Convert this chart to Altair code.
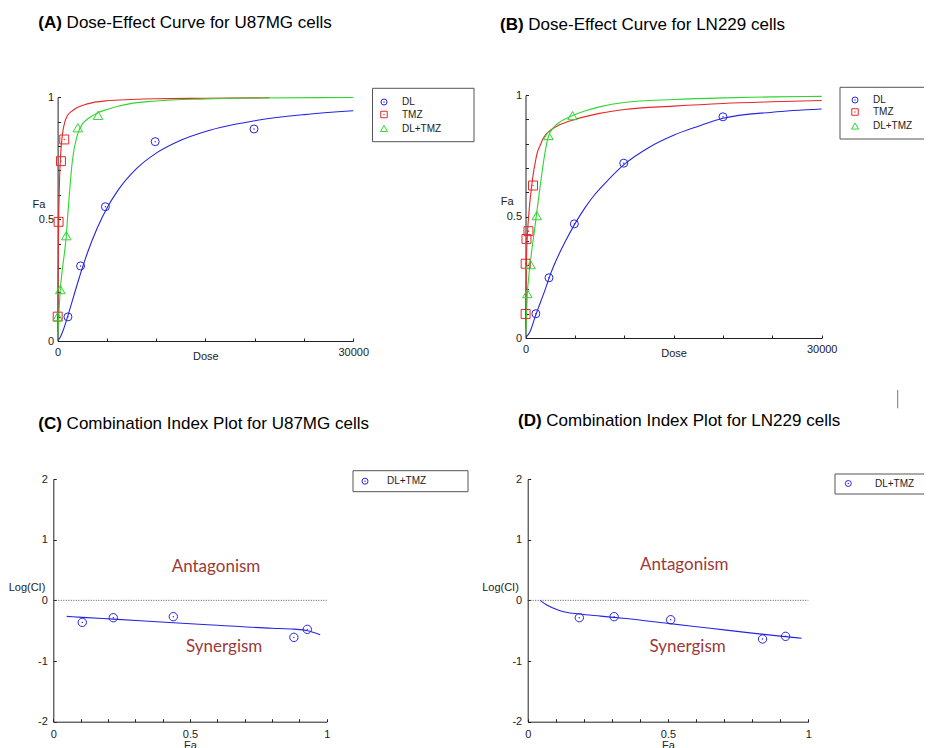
import altair as alt
import pandas as pd

W, H = 916, 740
FONT = "Liberation Sans"
BLUE, RED, GREEN = "#2525e2", "#e32929", "#2ed62e"
INK = "#222222"
NOTE = "#9b3a37"

# ---------------- Panel A : U87MG dose-effect ----------------
A_DL_DOSE = [1050, 2330, 4850, 9900, 19930]
A_DL_FA = [0.099, 0.308, 0.551, 0.818, 0.870]
A_TMZ_DOSE = [10, 100, 340, 675]
A_TMZ_FA = [0.100, 0.489, 0.738, 0.827]
A_MIX_DOSE = [10, 270, 880, 2050, 4100]
A_MIX_FA = [0.100, 0.211, 0.432, 0.875, 0.926]

A_DL_CURVE_DOSE = [0, 250, 500, 1000, 1500, 2000, 3000, 4000, 5000, 6000, 8000,
                   10000, 12500, 15000, 20000, 25000, 30000]
A_DL_CURVE_FA = [0, 0.014, 0.037, 0.098, 0.166, 0.234, 0.359, 0.462, 0.545, 0.611, 0.707,
                 0.771, 0.824, 0.860, 0.904, 0.929, 0.945]
A_TMZ_CURVE_DOSE = [0, 25, 50, 100, 150, 200, 300, 500, 750, 1000, 1500, 2000, 3000,
                    5000, 7500, 10000, 15000, 21500]
A_TMZ_CURVE_FA = [0, 0.154, 0.288, 0.473, 0.588, 0.665, 0.760, 0.850, 0.901, 0.925, 0.945,
                  0.958, 0.973, 0.986, 0.991, 0.994, 0.996, 0.998]
A_MIX_CURVE_DOSE = [0, 100, 250, 500, 750, 900, 1000, 1250, 1500, 2000, 2500, 3000, 4000,
                    5000, 7500, 10000, 15000, 20000, 30000]
A_MIX_CURVE_FA = [0, 0.09, 0.2, 0.3, 0.38, 0.44, 0.5, 0.63, 0.74, 0.845, 0.89, 0.91, 0.935,
                  0.95, 0.975, 0.985, 0.993, 0.997, 0.999]

# ---------------- Panel B : LN229 dose-effect ----------------
B_DL_DOSE = [1050, 2380, 4950, 9950, 20000]
B_DL_FA = [0.100, 0.248, 0.470, 0.720, 0.911]
B_TMZ_DOSE = [10, 15, 100, 300, 760]
B_TMZ_FA = [0.099, 0.306, 0.408, 0.440, 0.628]
B_MIX_DOSE = [185, 510, 1140, 2320, 4760]
B_MIX_FA = [0.183, 0.302, 0.504, 0.834, 0.916]

B_DL_CURVE_DOSE = [0, 500, 1000, 1500, 2000, 2500, 3000, 4000, 5000, 6000, 7000, 8000,
                   10000, 12500, 15000, 17500, 20000, 25000, 30000]
B_DL_CURVE_FA = [0, 0.03, 0.09, 0.145, 0.2, 0.26, 0.31, 0.395, 0.47, 0.535, 0.59, 0.635,
                 0.715, 0.785, 0.835, 0.872, 0.905, 0.93, 0.943]
B_TMZ_CURVE_DOSE = [0, 25, 50, 100, 200, 400, 630, 800, 1000, 1140, 1500, 1810, 2500,
                    3500, 5000, 7500, 10000, 15000, 20000, 25000, 30000]
B_TMZ_CURVE_FA = [0, 0.12, 0.2, 0.33, 0.43, 0.54, 0.628, 0.68, 0.725, 0.755, 0.795, 0.824,
                  0.855, 0.879, 0.9, 0.925, 0.941, 0.955, 0.966, 0.973, 0.978]
B_MIX_CURVE_DOSE = [0, 100, 185, 300, 460, 700, 900, 1100, 1400, 1700, 2000, 2320, 2800,
                    3500, 4760, 6000, 7500, 10000, 15000, 20000, 25000, 30000]
B_MIX_CURVE_FA = [0, 0.09, 0.183, 0.24, 0.302, 0.38, 0.44, 0.504, 0.6, 0.69, 0.77, 0.83,
                  0.865, 0.89, 0.916, 0.935, 0.952, 0.97, 0.982, 0.989, 0.993, 0.995]

# ---------------- Panel C : U87MG combination index ----------------
C_FA = [0.106, 0.2195, 0.439, 0.880, 0.929]
C_LOGCI = [-0.363, -0.286, -0.269, -0.61, -0.478]
C_CURVE_FA = [0.049, 0.106, 0.22, 0.44, 0.6, 0.8, 0.88, 0.93, 0.976]
C_CURVE_LOGCI = [-0.264, -0.28, -0.31, -0.37, -0.41, -0.46, -0.475, -0.5, -0.566]

# ---------------- Panel D : LN229 combination index ----------------
D_FA = [0.184, 0.308, 0.5095, 0.837, 0.919]
D_LOGCI = [-0.286, -0.269, -0.319, -0.637, -0.593]
D_CURVE_FA = [0.044, 0.068, 0.115, 0.184, 0.26, 0.35, 0.5, 0.65, 0.8, 0.9, 0.976]
D_CURVE_LOGCI = [0.0, -0.077, -0.17, -0.225, -0.26, -0.3, -0.38, -0.46, -0.54, -0.59, -0.625]

SERIES = ["DL", "TMZ", "DL+TMZ"]
DOSE_LABELS = [0, 30000]
DOSE_TICKS = [0, 5000, 10000, 15000, 20000, 25000, 30000]
FA_LABELS = [0, 0.5, 1]
FA_TICKS = [0, 0.1, 0.2, 0.3, 0.4, 0.5, 0.6, 0.7, 0.8, 0.9, 1]
CI_LABELS = [-2, -1, 0, 1, 2]

ONE = pd.DataFrame({"k": [0]})


def frame(xs, ys):
    return pd.DataFrame({"x": xs, "y": ys})


def scales(xdom, xr, ydom, yr):
    return (alt.Scale(domain=xdom, range=xr, nice=False, zero=False),
            alt.Scale(domain=ydom, range=yr, nice=False, zero=False))


def label_axes(ax_x, ax_y, xvals, yvals, xtitle, ytitle, xtx, xty, ytx, yty, xpad, ypad):
    xa = alt.Axis(orient="bottom", offset=ax_y - H, values=xvals, labelExpr="'' + datum.value",
                  ticks=False, tickSize=0, domain=True, domainColor=INK, domainWidth=1, grid=False,
                  labelFont=FONT, labelFontSize=11, labelColor=INK, labelPadding=xpad,
                  labelFlush=False, labelOverlap=False,
                  title=xtitle, titleFont=FONT, titleFontSize=11, titleFontWeight="normal",
                  titleColor=INK, titleX=xtx, titleY=xty, titleBaseline="middle", titleAlign="center")
    ya = alt.Axis(orient="left", offset=-ax_x, values=yvals, labelExpr="'' + datum.value",
                  ticks=False, tickSize=0, domain=True, domainColor=INK, domainWidth=1, grid=False,
                  labelFont=FONT, labelFontSize=11, labelColor=INK, labelPadding=ypad,
                  labelOverlap=False,
                  title=ytitle, titleFont=FONT, titleFontSize=11, titleFontWeight="normal",
                  titleColor=INK, titleAngle=0, titleX=ytx, titleY=yty, titleBaseline="middle",
                  titleAlign="center")
    return xa, ya


def tick_axes(ax_x, ax_y, xvals, yvals):
    xa = alt.Axis(orient="top", offset=-ax_y, values=xvals, labels=False, domain=False,
                  ticks=True, tickSize=3, tickColor=INK, tickWidth=1, grid=False, title=None)
    ya = alt.Axis(orient="right", offset=ax_x - W, values=yvals, labels=False, domain=False,
                  ticks=True, tickSize=3, tickColor=INK, tickWidth=1, grid=False, title=None)
    return xa, ya


def curve(df, color, xs, ys, xa=None, ya=None):
    return alt.Chart(df).mark_line(color=color, strokeWidth=1.1, interpolate="monotone").encode(
        x=alt.X("x:Q", scale=xs, axis=xa), y=alt.Y("y:Q", scale=ys, axis=ya))


def symbols(df, shape, color, size, xs, ys, xa=None, ya=None):
    return alt.Chart(df).mark_point(shape=shape, filled=False, color=color, size=size,
                                    strokeWidth=1, opacity=1).encode(
        x=alt.X("x:Q", scale=xs, axis=xa), y=alt.Y("y:Q", scale=ys, axis=ya))


def dots(df, color, xs, ys):
    return alt.Chart(df).mark_point(shape="circle", filled=True, color=color, size=2,
                                    opacity=1).encode(
        x=alt.X("x:Q", scale=xs, axis=None), y=alt.Y("y:Q", scale=ys, axis=None))


def heading(letter, rest, x, y):
    a = alt.Chart(ONE).mark_text(text=letter, font=FONT, fontSize=17, fontWeight="bold",
                                 align="left", baseline="alphabetic", color="#000").encode(
        x=alt.value(x), y=alt.value(y))
    b = alt.Chart(ONE).mark_text(text=rest, font=FONT, fontSize=17, fontWeight="normal",
                                 align="left", baseline="alphabetic", color="#000").encode(
        x=alt.value(x + 28.3), y=alt.value(y))
    return [a, b]


def legend_box(x1, x2, y1, y2):
    return alt.Chart(ONE).mark_rect(fill="white", stroke="#555555", strokeWidth=1).encode(
        x=alt.value(x1), x2=alt.value(x2), y=alt.value(y1), y2=alt.value(y2))


def legend_row(shape, color, size, label, sx, tx, y, dot):
    out = [alt.Chart(ONE).mark_point(shape=shape, filled=False, color=color, size=size,
                                     strokeWidth=1, opacity=1).encode(
        x=alt.value(sx), y=alt.value(y))]
    if dot:
        out.append(alt.Chart(ONE).mark_point(shape="circle", filled=True, color=color, size=2,
                                             opacity=1).encode(x=alt.value(sx), y=alt.value(y)))
    out.append(alt.Chart(ONE).mark_text(text=label, font=FONT, fontSize=10, color=INK,
                                        align="left", baseline="middle").encode(
        x=alt.value(tx), y=alt.value(y)))
    return out


def note(text, fx, fy, xs, ys):
    return alt.Chart(ONE).mark_text(text=text, font="Lato", fontSize=17, color=NOTE,
                                    align="center", baseline="middle").encode(
        x=alt.XDatum(fx, type="quantitative", scale=xs, axis=None),
        y=alt.YDatum(fy, type="quantitative", scale=ys, axis=None))


def zero_line(xs, ys):
    return alt.Chart(ONE).mark_rule(color="#555555", strokeWidth=1, strokeDash=[1, 1.5]).encode(
        x=alt.XDatum(0, type="quantitative", scale=xs, axis=None),
        x2=alt.X2Datum(1),
        y=alt.YDatum(0, type="quantitative", scale=ys, axis=None))


def dose_panel(geo, data, legend, head):
    ax_x, ax_y, x_end, y_top, xtx, ytx, yty = geo
    xs, ys = scales([0, 30000], [ax_x, x_end], [0, 1], [ax_y, y_top])
    lxa, lya = label_axes(ax_x, ax_y, DOSE_LABELS, FA_LABELS, "Dose", "Fa", xtx, 15, ytx, yty, 5, 4)
    txa, tya = tick_axes(ax_x, ax_y, DOSE_TICKS, FA_TICKS)
    (dl_cx, dl_cy, tmz_cx, tmz_cy, mix_cx, mix_cy,
     dl_x, dl_y, tmz_x, tmz_y, mix_x, mix_y) = data
    layers = [
        curve(frame(dl_cx, dl_cy), BLUE, xs, ys, lxa, lya),
        curve(frame(tmz_cx, tmz_cy), RED, xs, ys, txa, tya),
        curve(frame(mix_cx, mix_cy), GREEN, xs, ys),
        symbols(frame(dl_x, dl_y), "circle", BLUE, 64, xs, ys),
        dots(frame(dl_x, dl_y), BLUE, xs, ys),
        symbols(frame(tmz_x, tmz_y), "square", RED, 80, xs, ys),
        dots(frame(tmz_x, tmz_y), RED, xs, ys),
        symbols(frame(mix_x, mix_y), "triangle-up", GREEN, 90, xs, ys),
    ]
    bx1, bx2, by1, by2, sx, tx, rows = legend
    layers.append(legend_box(bx1, bx2, by1, by2))
    specs = [("circle", BLUE, 36, True), ("square", RED, 42, True), ("triangle-up", GREEN, 50, False)]
    for (shape, col, sz, dt), lab, ry in zip(specs, SERIES, rows):
        layers += legend_row(shape, col, sz, lab, sx, tx, ry, dt)
    layers += heading(*head)
    return alt.layer(*layers).resolve_axis(x="independent", y="independent")


def ci_panel(geo, data, legend, head, notes):
    ax_x, ax_y, x_end, y_top, xtx, ytx, yty = geo
    xs, ys = scales([0, 1], [ax_x, x_end], [-2, 2], [ax_y, y_top])
    lxa, lya = label_axes(ax_x, ax_y, FA_LABELS, CI_LABELS, "Fa", "Log(CI)", xtx, 24.0, ytx, yty, 7, 6)
    txa, tya = tick_axes(ax_x, ax_y, FA_TICKS, CI_LABELS)
    cx, cy, px, py = data
    layers = [
        zero_line(xs, ys),
        curve(frame(cx, cy), BLUE, xs, ys, lxa, lya),
        symbols(frame(px, py), "circle", BLUE, 70, xs, ys, txa, tya),
        dots(frame(px, py), BLUE, xs, ys),
    ]
    (a_x, a_y), (s_x, s_y) = notes
    layers.append(note("Antagonism", a_x, a_y, xs, ys))
    layers.append(note("Synergism", s_x, s_y, xs, ys))
    bx1, bx2, by1, by2, sx, tx, ry = legend
    layers.append(legend_box(bx1, bx2, by1, by2))
    layers += legend_row("circle", BLUE, 36, SERIES[2], sx, tx, ry, True)
    layers += heading(*head)
    return alt.layer(*layers).resolve_axis(x="independent", y="independent")


pA = dose_panel(
    (49.6, 333.0, 345.3, 89.3, 197.4, -19.2, 196.0),
    (A_DL_CURVE_DOSE, A_DL_CURVE_FA, A_TMZ_CURVE_DOSE, A_TMZ_CURVE_FA, A_MIX_CURVE_DOSE,
     A_MIX_CURVE_FA, A_DL_DOSE, A_DL_FA, A_TMZ_DOSE, A_TMZ_FA, A_MIX_DOSE, A_MIX_FA),
    (364.5, 466.0, 80.3, 133.7, 376.0, 394.0, [94.0, 106.5, 120.5]),
    ("(A)", "Dose-Effect Curve for U87MG cells", 30.3, 19.5))

pB = dose_panel(
    (517.5, 330.0, 813.7, 87.2, 665.6, -18.8, 193.7),
    (B_DL_CURVE_DOSE, B_DL_CURVE_FA, B_TMZ_CURVE_DOSE, B_TMZ_CURVE_FA, B_MIX_CURVE_DOSE,
     B_MIX_CURVE_FA, B_DL_DOSE, B_DL_FA, B_TMZ_DOSE, B_TMZ_FA, B_MIX_DOSE, B_MIX_FA),
    (832.0, 935.0, 79.3, 131.0, 847.0, 865.0, [92.0, 104.0, 118.0]),
    ("(B)", "Dose-Effect Curve for LN229 cells", 492.0, 21.5))

pC = ci_panel(
    (45.3, 713.7, 318.7, 471.0, 182.0, -26.8, 579.7),
    (C_CURVE_FA, C_CURVE_LOGCI, C_FA, C_LOGCI),
    (345.0, 460.0, 462.7, 483.7, 357.0, 379.0, 473.2),
    ("(C)", "Combination Index Plot for U87MG cells", 30.3, 421.0),
    ((0.595, 0.554), (0.625, -0.765)))

pD = ci_panel(
    (519.7, 713.7, 800.3, 471.0, 660.0, -27.7, 579.7),
    (D_CURVE_FA, D_CURVE_LOGCI, D_FA, D_LOGCI),
    (827.0, 935.0, 466.0, 486.0, 840.3, 867.0, 475.5),
    ("(D)", "Combination Index Plot for LN229 cells", 510.0, 418.0),
    ((0.558, 0.58), (0.57, -0.765)))

stray = alt.Chart(ONE).mark_rule(color="#777777", strokeWidth=1).encode(
    x=alt.value(889.7), y=alt.value(382.0), y2=alt.value(400.3))

chart = alt.layer(pA, pB, pC, pD, stray).resolve_scale(
    x="independent", y="independent"
).properties(
    width=W, height=H, padding=0, background="white",
    autosize=alt.AutoSizeParams(type="none")
).configure_view(strokeWidth=0)

chart.save("out.html", embed_options={"renderer": "svg", "actions": False})
